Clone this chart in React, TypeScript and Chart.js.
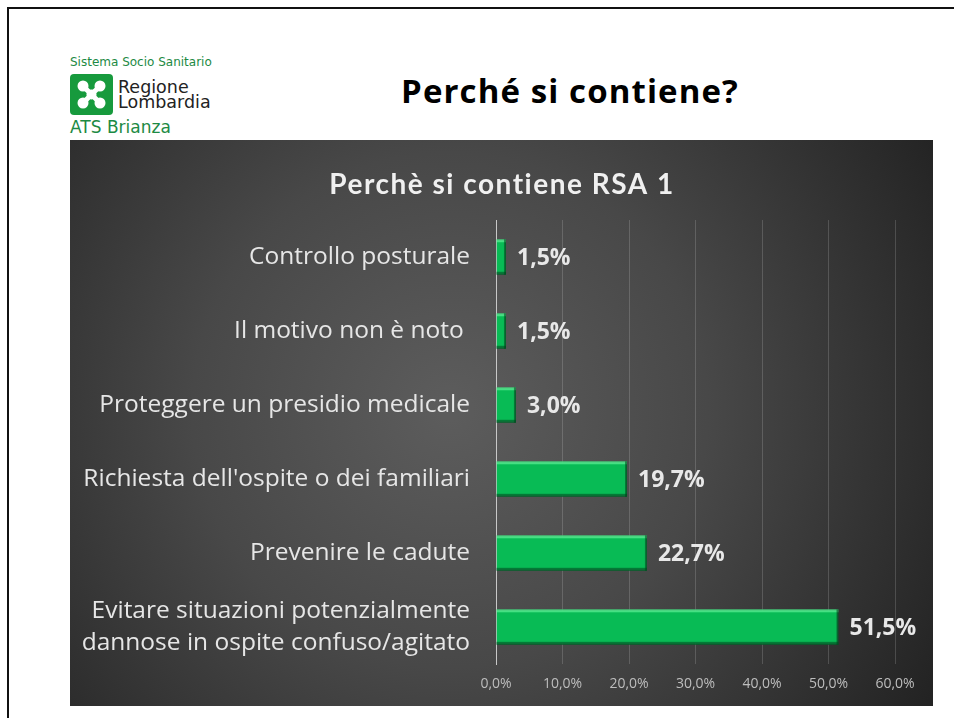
import React, { useEffect, useRef } from "react";
import { Chart, registerables } from "chart.js";

Chart.register(...registerables);

const chartTitle = "Perchè si contiene RSA 1";
const categories: (string | string[])[] = [
  "Controllo posturale",
  "Il motivo non è noto ",
  "Proteggere un presidio medicale",
  "Richiesta dell'ospite o dei familiari",
  "Prevenire le cadute",
  ["Evitare situazioni potenzialmente", "dannose in ospite confuso/agitato"],
];
const values = [1.5, 1.5, 3.0, 19.7, 22.7, 51.5];
const axisMax = 60;
const axisStep = 10;

const fmt = (v: number) => v.toFixed(1).replace(".", ",") + "%";

const bgPlugin = {
  id: "panelBg",
  beforeDraw(chart: any) {
    const { ctx, width, height } = chart;
    ctx.save();
    const g = ctx.createRadialGradient(380, 270, 10, 380, 270, 560);
    g.addColorStop(0, "#5c5c5c");
    g.addColorStop(0.45, "#484848");
    g.addColorStop(1, "#232323");
    ctx.fillStyle = g;
    ctx.fillRect(0, 0, width, height);
    ctx.font = "bold 28px Lato";
    (ctx as any).letterSpacing = "1.5px";
    ctx.fillStyle = "#f0f0f0";
    ctx.textAlign = "center";
    ctx.textBaseline = "middle";
    ctx.fillText(chartTitle, 432, 45);
    ctx.restore();
  },
};

const labelPlugin = {
  id: "barLabels",
  afterDatasetsDraw(chart: any) {
    const { ctx } = chart;
    const meta = chart.getDatasetMeta(0);
    ctx.save();
    meta.data.forEach((bar: any) => {
      const x0 = bar.base;
      const x1 = bar.x;
      const top = bar.y - bar.height / 2;
      const bot = bar.y + bar.height / 2;
      const w = x1 - x0;
      ctx.fillStyle = "rgba(120,255,170,0.55)";
      ctx.fillRect(x0, top, w, 3);
      ctx.fillStyle = "rgba(0,70,30,0.55)";
      ctx.fillRect(x0, bot - 3, w, 3);
      ctx.fillRect(x1 - 2, top, 2, bot - top);
    });
    ctx.font = "bold 23px 'Open Sans'";
    ctx.fillStyle = "#e8e8e8";
    ctx.textAlign = "left";
    ctx.textBaseline = "middle";
    meta.data.forEach((bar: any, i: number) => {
      ctx.fillText(fmt(values[i]), bar.x + 11, bar.y + 1);
    });
    ctx.restore();
  },
};

function BarChart() {
  const ref = useRef<HTMLCanvasElement>(null);
  useEffect(() => {
    if (!ref.current) return;
    const chart = new Chart(ref.current, {
      type: "bar",
      data: {
        labels: categories,
        datasets: [
          {
            data: values,
            backgroundColor: "#08bb55",
            borderColor: "#0a8a3e",
            borderWidth: 1,
            categoryPercentage: 1,
            barPercentage: 0.48,
          },
        ],
      },
      options: {
        indexAxis: "y",
        animation: false,
        responsive: false,
        maintainAspectRatio: false,
        layout: { padding: { top: 80, right: 38, bottom: 0, left: 0 } },
        plugins: {
          legend: { display: false },
          title: { display: false },
          tooltip: { enabled: false },
        },
        scales: {
          x: {
            min: 0,
            max: axisMax,
            ticks: {
              stepSize: axisStep,
              callback: (v: any) => fmt(Number(v)),
              color: "#bdbdbd",
              font: { family: "'Open Sans'", size: 14 },
              padding: 12,
            },
            grid: { color: "rgba(255,255,255,0.16)", drawTicks: false },
            border: { display: false },
            afterFit: (s: any) => {
              s.height = 40;
            },
          },
          y: {
            ticks: {
              color: "#e6e6e6",
              font: { family: "'Open Sans'", size: 24.5, lineHeight: 1.3 },
              padding: 26,
            },
            grid: { display: false, drawTicks: false },
            border: { display: true, color: "#c8c8c8", width: 1 },
            afterFit: (s: any) => {
              s.width = 426;
            },
          },
        },
      },
      plugins: [bgPlugin, labelPlugin],
    });
    return () => chart.destroy();
  }, []);
  return (
    <canvas
      ref={ref}
      width={863}
      height={566}
      style={{ position: "absolute", left: 70, top: 140, width: 863, height: 566 }}
    />
  );
}

function Logo() {
  return (
    <div style={{ position: "absolute", left: 70, top: 55, fontFamily: "'DejaVu Sans', sans-serif" }}>
      <div style={{ fontSize: 12, color: "#1d8a44", lineHeight: "15px" }}>Sistema Socio Sanitario</div>
      <div style={{ display: "flex", alignItems: "center", marginTop: 4 }}>
        <svg width={43} height={41} viewBox="0 0 43 41">
          <rect x={0} y={0} width={43} height={41} rx={4} fill="#179a3d" />
          <g fill="#ffffff">
            <circle cx={13} cy={12} r={5.5} />
            <circle cx={30} cy={12} r={5.5} />
            <circle cx={13} cy={29} r={5.5} />
            <circle cx={30} cy={29} r={5.5} />
            <circle cx={21.5} cy={20.5} r={5} />
            <path d="M13 12 L21.5 20.5 L30 12 L21.5 20.5 L30 29 L21.5 20.5 L13 29 L21.5 20.5 Z" stroke="#fff" strokeWidth={5} />
          </g>
        </svg>
        <div style={{ marginLeft: 5, fontSize: 17.5, lineHeight: "15px", color: "#222" }}>
          <div>Regione</div>
          <div>Lombardia</div>
        </div>
      </div>
      <div style={{ fontSize: 17, color: "#1d8a44", marginTop: 2, lineHeight: "20px" }}>ATS Brianza</div>
    </div>
  );
}

export default function App() {
  return (
    <div style={{ position: "absolute", left: 0, top: 0, width: 954, height: 718, background: "#fff", overflow: "hidden" }}>
      <div style={{ position: "absolute", left: 7, top: 7, right: 0, height: 2, background: "#111" }} />
      <div style={{ position: "absolute", left: 7, top: 7, width: 2, bottom: 0, background: "#111" }} />
      <Logo />
      <div
        style={{
          position: "absolute",
          left: 300,
          width: 540,
          top: 69,
          textAlign: "center",
          fontFamily: "'Open Sans', sans-serif",
          fontWeight: "bold",
          fontSize: 33,
          letterSpacing: "1.1px",
          color: "#000",
          lineHeight: "44px",
        }}
      >
        Perché si contiene?
      </div>
      <BarChart />
    </div>
  );
}
